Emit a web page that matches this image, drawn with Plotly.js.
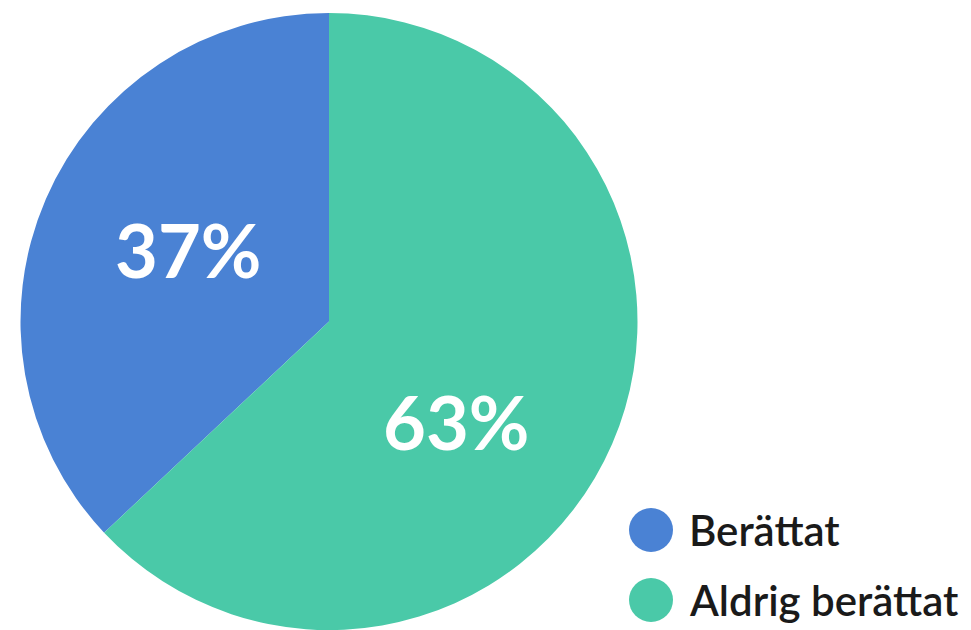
<!DOCTYPE html>
<html>
<head>
<meta charset="utf-8">
<script src="https://cdn.plot.ly/plotly-3.0.1.min.js"></script>
<style>html,body{margin:0;padding:0;background:#fff;}#chart{width:971px;height:630px;}</style>
</head>
<body>
<div id="chart"></div>
<script>
const categories = ["Berättat", "Aldrig berättat"];
const values = [37, 63];
const colors = ["#4A82D4", "#4AC9A8"];

const total = values.reduce((a, b) => a + b, 0);
const pie = {
  type: "pie",
  labels: categories,
  values: values,
  marker: {colors: colors, line: {width: 0}},
  sort: false,
  direction: "counterclockwise",
  rotation: -values[0] / total * 360,
  textinfo: "none",
  hoverinfo: "label+percent",
  showlegend: false,
  domain: {x: [20/971, 638/971], y: [0, 617/630]}
};

// percentage labels placed inside their slices
const labelPos = [[188/971, 1 - 250/630], [456/971, 1 - 422/630]];
const pctAnnotations = values.map((v, i) => ({
  text: Math.round(v / total * 100) + "%",
  xref: "paper", yref: "paper",
  x: labelPos[i][0], y: labelPos[i][1], xanchor: "center", yanchor: "middle",
  showarrow: false,
  font: {family: "Lato, 'Open Sans', sans-serif", size: 74, color: "#ffffff", weight: 700}
}));

const legendY = [100 - 530/6.3, 100 - 600/6.3].map(v => v/100);
const shapes = categories.map((c, i) => ({
  type: "circle", xref: "paper", yref: "paper",
  xsizemode: "pixel", ysizemode: "pixel",
  xanchor: 651/971, yanchor: legendY[i],
  x0: -22, x1: 22, y0: -22, y1: 22,
  fillcolor: colors[i], line: {width: 0}
}));
const legendAnnotations = categories.map((c, i) => ({
  text: c, xref: "paper", yref: "paper",
  x: 687/971, y: legendY[i], xanchor: "left", yanchor: "middle",
  showarrow: false,
  font: {family: "Lato, 'Open Sans', sans-serif", size: 42, color: "#1a1a1a", weight: 600}
}));

Plotly.newPlot("chart", [pie], {
  width: 971, height: 630,
  margin: {l: 0, r: 0, t: 0, b: 0},
  paper_bgcolor: "#ffffff",
  showlegend: false,
  shapes: shapes,
  annotations: pctAnnotations.concat(legendAnnotations)
}, {displayModeBar: false});
</script>
</body>
</html>
